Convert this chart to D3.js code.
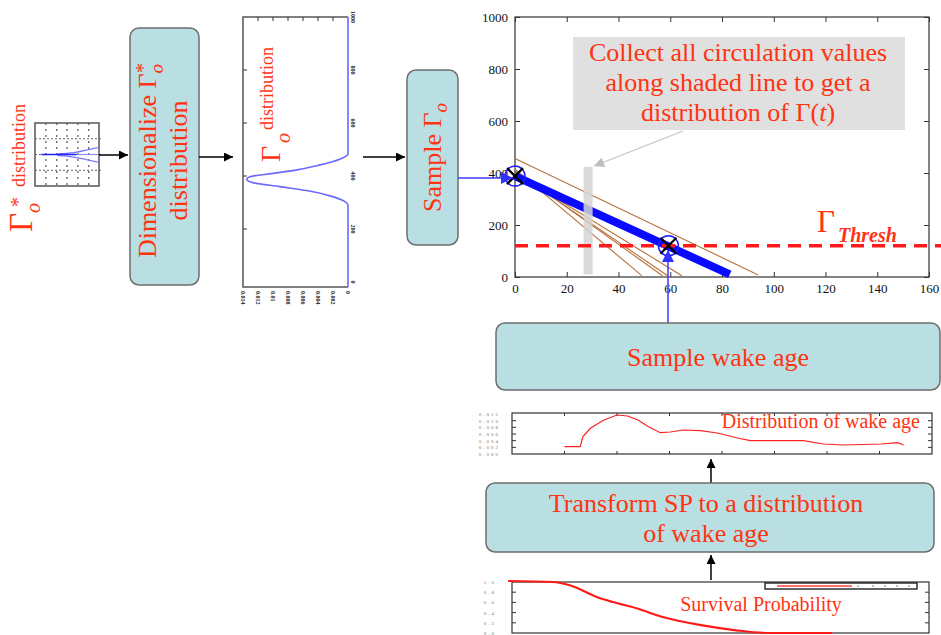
<!DOCTYPE html>
<html>
<head>
<meta charset="utf-8">
<script src="https://cdn.jsdelivr.net/npm/d3@7"></script>
<style>
  body { margin: 0; background: #fff; }
  svg { display: block; }
  text { font-family: "Liberation Serif", "Times New Roman", serif; }
</style>
</head>
<body>
<svg id="chart" width="941" height="635"></svg>
<script>
/* global d3 */

// circulation decay chart (top right)
let xTicks = [0, 20, 40, 60, 80, 100, 120, 140, 160];
let yTicks = [0, 200, 400, 600, 800, 1000];
let gammaThresh = 120;
let meanDecay = [[0, 388], [83, 10]];
let sampleDecays = [
  [[0, 456], [94, 8]],
  [[0, 415], [49, 5]],
  [[0, 410], [57, 5]],
  [[0, 405], [59, 5]],
  [[0, 400], [64.5, 5]]
];
let crossPoints = [[0, 388], [59.3, 120]];
let shadeAge = [26.5, 30];
let shadeGamma = [10, 424];

// dimensional gamma_0 distribution (rotated plot)
let gamma0Values = [-19, 291, 303, 325, 345, 360, 375, 388, 397, 410, 423, 442, 463, 483, 1000];
let gamma0Density = [0, 0, 0.0004, 0.0024, 0.0055, 0.0091, 0.0127, 0.0135, 0.0131, 0.0100, 0.0068, 0.0037, 0.0011, 0, 0];
let gamma0Ticks = [0, 200, 400, 600, 800, 1000];
let densityTicks = [0, 0.002, 0.004, 0.006, 0.008, 0.01, 0.012, 0.014];

// non-dimensional thumbnail
let thumbGridX = [0.17, 0.34, 0.5, 0.67, 0.84];
let thumbGridY = [-0.5, 0, 0.5];
let thumbCore = [[0.1, 0], [0.65, 0]];
let thumbTail = [[0.65, 0], [0.99, 0]];
let thumbUpper = [[0.35, 0.02], [0.6, 0.06], [0.8, 0.14], [0.98, 0.22]];
let thumbLower = [[0.35, -0.03], [0.6, -0.08], [0.8, -0.16], [0.98, -0.24]];

// wake age distribution
let wakeAge = [20, 26, 27, 30, 35, 40, 44, 48, 52, 56.5, 60.3, 65.3, 71.8, 78.2, 85.9, 90.8, 111, 118.7, 126.3, 140.5, 146.9, 149.2];
let wakePdf = [0.0022, 0.0022, 0.0052, 0.0078, 0.0102, 0.0117, 0.0114, 0.0102, 0.0082, 0.0064, 0.0066, 0.0072, 0.0070, 0.0063, 0.0048, 0.0040, 0.0040, 0.0030, 0.0027, 0.0030, 0.0034, 0.0027];
let wakeTicks = [0.002, 0.004, 0.006, 0.008, 0.01];

// survival probability
let spAge = [-1.5, 15.7, 22.2, 32.5, 38.7, 47.8, 57.8, 73.1, 86.1, 98.8, 122.9];
let spProb = [1.02, 1.0, 0.935, 0.706, 0.608, 0.484, 0.314, 0.151, 0.053, 0.0, 0.0];
let spTicks = [0.2, 0.4, 0.6, 0.8];

const red = '#ff3311';
const boxFill = '#b9dfe3';
const boxStroke = '#6e6e6e';

let svg = d3.select('#chart');
let defs = svg.append('defs');

function arrowMarker(id, color, w, h) {
  defs.append('marker').attr('id', id)
    .attr('viewBox', '0 0 10 10').attr('refX', 10).attr('refY', 5)
    .attr('markerUnits', 'userSpaceOnUse')
    .attr('markerWidth', w).attr('markerHeight', h)
    .attr('orient', 'auto')
    .append('path').attr('d', 'M0,0L10,5L0,10Z').attr('fill', color);
}
arrowMarker('arrBlack', '#000', 11, 9);
arrowMarker('arrBlue', '#3030ff', 14, 12);
arrowMarker('arrGray', '#bdbdbd', 12, 10);

function arrow(x1, y1, x2, y2, color, marker, w) {
  svg.append('line')
    .attr('x1', x1).attr('y1', y1).attr('x2', x2).attr('y2', y2)
    .attr('stroke', color).attr('stroke-width', w)
    .attr('marker-end', `url(#${marker})`);
}

function flowBox(x0, y0, w, h) {
  svg.append('rect').attr('x', x0).attr('y', y0).attr('width', w).attr('height', h)
    .attr('rx', 9).attr('fill', boxFill).attr('stroke', boxStroke).attr('stroke-width', 1.5);
}

function innerTicks(g, scale, vals, side, pos, len) {
  g.selectAll(null).data(vals).enter().append('line')
    .attr('x1', (d) => side == 'v' ? pos : scale(d))
    .attr('x2', (d) => side == 'v' ? pos + len : scale(d))
    .attr('y1', (d) => side == 'v' ? scale(d) : pos)
    .attr('y2', (d) => side == 'v' ? scale(d) : pos + len)
    .attr('stroke', '#333').attr('stroke-width', 1);
}

// ---------- thumbnail of Gamma_o* ----------
let tx = d3.scaleLinear().domain([0, 1]).range([35, 99]);
let ty = d3.scaleLinear().domain([-1, 1]).range([186, 123]);
let thumb = svg.append('g');
thumb.selectAll('.gx').data(thumbGridX).enter().append('line')
  .attr('x1', (d) => tx(d)).attr('x2', (d) => tx(d))
  .attr('y1', ty(1)).attr('y2', ty(-1))
  .attr('stroke', '#555').attr('stroke-width', 1.2).attr('stroke-dasharray', '2,4');
thumb.selectAll('.gy').data(thumbGridY).enter().append('line')
  .attr('x1', tx(0)).attr('x2', tx(1.04))
  .attr('y1', (d) => ty(d)).attr('y2', (d) => ty(d))
  .attr('stroke', '#666').attr('stroke-width', 1).attr('stroke-dasharray', '2,2');
let tline = d3.line().x((d) => tx(d[0])).y((d) => ty(d[1])).curve(d3.curveMonotoneX);
thumb.append('path').attr('d', tline(thumbTail)).attr('fill', 'none').attr('stroke', '#8f8fff').attr('stroke-width', 1.2);
thumb.append('path').attr('d', tline(thumbUpper)).attr('fill', 'none').attr('stroke', '#7a7aff').attr('stroke-width', 1.3);
thumb.append('path').attr('d', tline(thumbLower)).attr('fill', 'none').attr('stroke', '#7a7aff').attr('stroke-width', 1.3);
thumb.append('path').attr('d', tline(thumbCore)).attr('fill', 'none').attr('stroke', '#2020ff').attr('stroke-width', 1.6);
thumb.append('rect').attr('x', tx(0)).attr('y', ty(1)).attr('width', tx(1) - tx(0)).attr('height', ty(-1) - ty(1))
  .attr('fill', 'none').attr('stroke', '#555').attr('stroke-width', 1.5);

let g0 = svg.append('g').attr('transform', 'translate(32,232) rotate(-90)').attr('fill', red);
g0.append('text').attr('x', 0).attr('y', 0).attr('font-size', 33).text('Γ');
g0.append('text').attr('x', 19).attr('y', 8).attr('font-size', 20).attr('font-style', 'italic').text('o');
g0.append('text').attr('x', 25).attr('y', -7).attr('font-size', 20).text('*');
g0.append('text').attr('x', 45).attr('y', -7).attr('font-size', 18).text('distribution');

arrow(99, 155, 128, 155, '#000', 'arrBlack', 1.5);

// ---------- Dimensionalize box ----------
flowBox(130, 28, 69, 257);
let dimText = svg.append('g').attr('transform', 'translate(164.5,156.5) rotate(-90)').attr('fill', red)
  .attr('font-size', 26).attr('text-anchor', 'middle');
let dl = dimText.append('text').attr('x', -4).attr('y', -9);
dl.append('tspan').text('Dimensionalize Γ');
dl.append('tspan').attr('font-style', 'italic').attr('font-size', 19).attr('dy', 7).text('o');
dl.append('tspan').attr('font-size', 20).attr('dx', -9).attr('dy', -13).text('*');
dimText.append('text').attr('x', -4).attr('y', 22).text('distribution');

arrow(199, 157, 233, 157, '#000', 'arrBlack', 1.5);

// ---------- Gamma_o distribution (rotated) ----------
let dx = d3.scaleLinear().domain([0, 0.014]).range([348, 243]);
let gy = d3.scaleLinear().domain([0, 1000]).range([282, 17]);
let gdist = svg.append('g');
gdist.append('path')
  .attr('d', `M348,17H243V287H348`)
  .attr('fill', 'none').attr('stroke', '#555').attr('stroke-width', 1.5);
innerTicks(gdist, gy, [200, 400, 600, 800], 'v', 243, 4);
innerTicks(gdist, dx, densityTicks.slice(1, 7), 'h', 17, 4);
let gline = d3.line().x((d, i) => dx(gamma0Density[i])).y((d) => gy(d)).curve(d3.curveMonotoneY);
gdist.append('path').attr('d', gline(gamma0Values))
  .attr('fill', 'none').attr('stroke', '#6a6aff').attr('stroke-width', 1.6);
gdist.selectAll('.rl').data(gamma0Ticks).enter().append('text')
  .attr('transform', (d) => `translate(351,${gy(d)}) rotate(90)`)
  .attr('text-anchor', 'middle').attr('font-family', 'Liberation Sans').attr('font-size', 6)
  .attr('font-weight', 'bold').attr('fill', '#222').text((d) => d);
gdist.selectAll('.bl').data(densityTicks).enter().append('text')
  .attr('transform', (d) => `translate(${dx(d) - 2},291) rotate(90)`)
  .attr('font-family', 'Liberation Sans').attr('font-size', 6)
  .attr('font-weight', 'bold').attr('fill', '#222').text((d) => d);
let gl = svg.append('g').attr('transform', 'translate(280,162) rotate(-90)').attr('fill', red);
gl.append('text').attr('x', 0).attr('y', 0).attr('font-size', 28).text('Γ');
gl.append('text').attr('x', 19).attr('y', 10).attr('font-size', 20).attr('font-style', 'italic').text('o');
gl.append('text').attr('x', 32).attr('y', -7).attr('font-size', 18).text('distribution');

arrow(363, 157, 405, 157, '#000', 'arrBlack', 1.5);

// ---------- Sample Gamma_o box ----------
flowBox(407, 70, 51, 175);
let sg = svg.append('g').attr('transform', 'translate(432.5,157.5) rotate(-90)').attr('fill', red)
  .attr('font-size', 26).attr('text-anchor', 'middle');
let st = sg.append('text').attr('x', 0).attr('y', 8);
st.append('tspan').text('Sample Γ');
st.append('tspan').attr('font-style', 'italic').attr('font-size', 19).attr('dy', 6).text('o');

// ---------- main chart ----------
let x = d3.scaleLinear().domain([0, 160]).range([515, 929]);
let y = d3.scaleLinear().domain([0, 1000]).range([277, 17]);
let main = svg.append('g');

main.append('rect').attr('x', x(0)).attr('y', y(1000)).attr('width', x(160) - x(0)).attr('height', y(0) - y(1000))
  .attr('fill', 'none').attr('stroke', '#333').attr('stroke-width', 1.2);

main.append('g').attr('transform', `translate(0,${y(0)})`)
  .call(d3.axisBottom(x).tickValues(xTicks).tickSize(-5).tickPadding(7).tickFormat(d3.format('d')));
main.append('g').attr('transform', `translate(${x(0)},0)`)
  .call(d3.axisLeft(y).tickValues(yTicks).tickSize(-5).tickPadding(7).tickFormat(d3.format('d')));
main.append('g').attr('transform', `translate(0,${y(1000)})`)
  .call(d3.axisTop(x).tickValues(xTicks).tickSize(-5).tickFormat(''));
main.append('g').attr('transform', `translate(${x(160)},0)`)
  .call(d3.axisRight(y).tickValues(yTicks).tickSize(-5).tickFormat(''));
main.selectAll('.domain').remove();
main.selectAll('.tick line').attr('stroke', '#333');
main.selectAll('.tick text').attr('font-family', 'Liberation Sans, Arial, sans-serif').attr('font-size', 13).attr('fill', '#111');

let ln = d3.line().x((d) => x(d[0])).y((d) => y(d[1]));

main.selectAll('.brown').data(sampleDecays).enter().append('path')
  .attr('d', (d) => ln(d)).attr('fill', 'none')
  .attr('stroke', '#b8703c').attr('stroke-width', 1.1);

main.append('path').attr('d', ln(meanDecay)).attr('fill', 'none')
  .attr('stroke', '#0a0aff').attr('stroke-width', 8);

main.append('rect')
  .attr('x', x(shadeAge[0])).attr('width', x(shadeAge[1]) - x(shadeAge[0]))
  .attr('y', y(shadeGamma[1])).attr('height', y(shadeGamma[0]) - y(shadeGamma[1]))
  .attr('fill', '#d4d4d4').attr('opacity', 0.85);

main.append('path').attr('d', ln([[0, gammaThresh], [165, gammaThresh]]))
  .attr('fill', 'none').attr('stroke', '#ff1a1a').attr('stroke-width', 3.5)
  .attr('stroke-dasharray', '13,8');

main.selectAll('.circ').data(crossPoints).enter().append('circle')
  .attr('cx', (d) => x(d[0])).attr('cy', (d) => y(d[1])).attr('r', 10)
  .attr('fill', 'none').attr('stroke', '#2020ff').attr('stroke-width', 1.5);
main.selectAll('.cross').data(crossPoints).enter().append('path')
  .attr('d', (d) => {
    let cx = x(d[0]), cy = y(d[1]);
    return `M${cx - 8},${cy - 8}L${cx + 8},${cy + 8}M${cx - 8},${cy + 8}L${cx + 8},${cy - 8}`;
  })
  .attr('stroke', '#000').attr('stroke-width', 2.2);

// annotation
svg.append('rect').attr('x', 573).attr('y', 37).attr('width', 332).attr('height', 93).attr('fill', '#e0e0e0');
let ann = svg.append('g').attr('fill', red).attr('font-size', 26).attr('text-anchor', 'middle');
ann.append('text').attr('x', 738).attr('y', 61).text('Collect all circulation values');
ann.append('text').attr('x', 738).attr('y', 91).text('along shaded line to get a');
let a3 = ann.append('text').attr('x', 738).attr('y', 121);
a3.append('tspan').text('distribution of Γ(');
a3.append('tspan').attr('font-style', 'italic').text('t');
a3.append('tspan').text(')');
arrow(683, 131, 594, 166, '#c4c4c4', 'arrGray', 1.3);

let th = svg.append('g').attr('fill', red);
th.append('text').attr('x', 817).attr('y', 232).attr('font-size', 31).text('Γ');
th.append('text').attr('x', 838).attr('y', 242).attr('font-size', 20)
  .attr('font-style', 'italic').attr('font-weight', 'bold').text('Thresh');

// blue arrows into the main chart
arrow(458, 178, 513, 178, '#3a3aff', 'arrBlue', 1.5);
arrow(668, 323, 668, 250, '#3a3aff', 'arrBlue', 1.5);

// ---------- Sample wake age box ----------
flowBox(496, 323, 444, 67);
svg.append('text').attr('x', 718).attr('y', 366).attr('text-anchor', 'middle')
  .attr('font-size', 26).attr('fill', red).text('Sample wake age');

// ---------- wake age distribution plot ----------
let wx = d3.scaleLinear().domain([0, 160]).range([512, 932]);
let wy = d3.scaleLinear().domain([0, 0.012]).range([454, 414]);
let wake = svg.append('g');
wake.append('rect').attr('x', wx(0)).attr('y', 413).attr('width', wx(160) - wx(0)).attr('height', 41)
  .attr('fill', 'none').attr('stroke', '#333').attr('stroke-width', 1.2);
innerTicks(wake, wy, wakeTicks, 'v', wx(0), 4);
innerTicks(wake, wy, wakeTicks, 'v', wx(160), -4);
innerTicks(wake, wx, xTicks.slice(1, 8), 'h', 454, -3);
innerTicks(wake, wx, xTicks.slice(1, 8), 'h', 413, 3);
wake.selectAll('.wl').data([0].concat(wakeTicks).concat([0.012])).enter().append('text')
  .attr('x', 500).attr('y', (d) => wy(d) + 2).attr('text-anchor', 'end')
  .attr('font-family', 'Liberation Sans').attr('font-size', 5).attr('fill', '#777')
  .attr('letter-spacing', 2).text((d) => d.toFixed(3));
let wline = d3.line().x((d) => wx(d)).y((d, i) => wy(wakePdf[i]));
wake.append('path').attr('d', wline(wakeAge)).attr('fill', 'none')
  .attr('stroke', '#ff2020').attr('stroke-width', 1.2);
wake.append('text').attr('x', 920).attr('y', 428).attr('text-anchor', 'end')
  .attr('font-size', 20).attr('fill', red).text('Distribution of wake age');

arrow(711, 483, 711, 459, '#000', 'arrBlack', 1.5);

// ---------- Transform box ----------
flowBox(486, 483, 448, 69);
let tf = svg.append('g').attr('fill', red).attr('font-size', 26).attr('text-anchor', 'middle');
tf.append('text').attr('x', 706).attr('y', 512).text('Transform SP to a distribution');
tf.append('text').attr('x', 706).attr('y', 542).text('of wake age');

arrow(711, 580, 711, 555, '#000', 'arrBlack', 1.5);

// ---------- survival probability plot ----------
let sx = d3.scaleLinear().domain([0, 160]).range([512, 929]);
let sy = d3.scaleLinear().domain([0, 1]).range([633, 582]);
let sp = svg.append('g');
sp.append('rect').attr('x', sx(0)).attr('y', 582).attr('width', sx(160) - sx(0)).attr('height', 51)
  .attr('fill', 'none').attr('stroke', '#333').attr('stroke-width', 1.2);
innerTicks(sp, sy, spTicks, 'v', sx(0), 4);
innerTicks(sp, sy, spTicks, 'v', sx(160), -4);
sp.selectAll('.sl').data([0].concat(spTicks).concat([1])).enter().append('text')
  .attr('x', 496).attr('y', (d) => sy(d) + 2).attr('text-anchor', 'end')
  .attr('font-family', 'Liberation Sans').attr('font-size', 5).attr('fill', '#777')
  .attr('letter-spacing', 2).text((d) => d.toFixed(1));
let sline = d3.line().x((d) => sx(d)).y((d, i) => sy(spProb[i])).curve(d3.curveMonotoneX);
sp.append('path').attr('d', sline(spAge)).attr('fill', 'none')
  .attr('stroke', '#ff1a1a').attr('stroke-width', 2.2);
// legend box
sp.append('rect').attr('x', 765).attr('y', 583).attr('width', 152).attr('height', 6)
  .attr('fill', '#fff').attr('stroke', '#111').attr('stroke-width', 1.3);
sp.append('line').attr('x1', 777).attr('x2', 852).attr('y1', 586).attr('y2', 586)
  .attr('stroke', '#ff4040').attr('stroke-width', 1.6);
sp.selectAll('.ld').data([858, 873, 885, 897, 909]).enter().append('circle')
  .attr('cx', (d) => d).attr('cy', 586).attr('r', 0.7).attr('fill', '#555');
sp.append('text').attr('x', 761).attr('y', 611).attr('text-anchor', 'middle')
  .attr('font-size', 20).attr('fill', red).text('Survival Probability');
</script>
</body>
</html>
